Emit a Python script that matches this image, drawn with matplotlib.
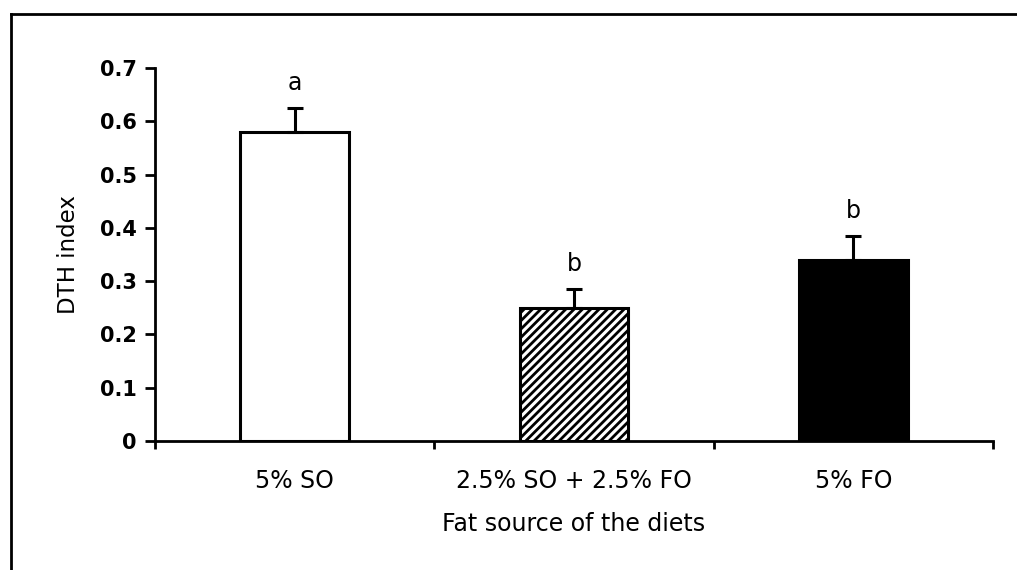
import matplotlib.pyplot as plt
from matplotlib.lines import Line2D

plt.rcParams['font.family'] = ['DejaVu Sans']
plt.rcParams['hatch.linewidth'] = 2.0

# Data
diets = ['5% SO', '2.5% SO + 2.5% FO', '5% FO']
dth_index = [0.58, 0.25, 0.34]
sem = [0.045, 0.035, 0.045]
letters = ['a', 'b', 'b']

fig = plt.figure(figsize=(10.17, 5.7), dpi=100)
ax = fig.add_axes([155 / 1017, 1 - 441 / 570, 838 / 1017, 373 / 570])

x = range(len(diets))
faces = ['white', 'white', 'black']
hatches = [None, '////', None]
for i in x:
    ax.bar(i, dth_index[i], width=0.39, color=faces[i], edgecolor='black',
           linewidth=2.2, hatch=hatches[i], zorder=2)
ax.errorbar(list(x), dth_index, yerr=[[0] * len(sem), sem], fmt='none',
            ecolor='black', elinewidth=2.2, capsize=5.5, capthick=2.2, zorder=3)

# significance letters above the error bars
for i in x:
    ax.text(i, dth_index[i] + sem[i] + 0.025, letters[i], ha='center',
            va='bottom', fontsize=17)

ax.set_xlim(-0.5, 2.5)
ax.set_ylim(0, 0.7)
ax.set_yticks([0, 0.1, 0.2, 0.3, 0.4, 0.5, 0.6, 0.7])
ax.set_yticklabels(['0', '0.1', '0.2', '0.3', '0.4', '0.5', '0.6', '0.7'],
                   fontsize=15, fontweight='bold')
ax.set_xticks([-0.5, 0.5, 1.5, 2.5])
ax.set_xticklabels([])
ax.set_xticks(list(x), minor=True)
ax.set_xticklabels(diets, minor=True, fontsize=17)
ax.tick_params(axis='x', which='minor', length=0, pad=20)
ax.tick_params(axis='x', which='major', direction='out', length=6, width=2)
ax.tick_params(axis='y', direction='out', length=7, width=2, pad=6)

for side in ['top', 'right']:
    ax.spines[side].set_visible(False)
for side in ['left', 'bottom']:
    ax.spines[side].set_linewidth(2)

ax.set_ylabel('DTH index', fontsize=16.5)
ax.yaxis.set_label_coords(-0.09, 0.5)
ax.set_xlabel('Fat source of the diets', fontsize=17)
ax.xaxis.set_label_coords(0.5, -0.19)

# Outer frame: only the left and top edges show
fig.add_artist(Line2D([11 / 1017, 11 / 1017], [0, 1 - 14 / 570],
                      transform=fig.transFigure, color='black', lw=2))
fig.add_artist(Line2D([11 / 1017, 1], [1 - 14 / 570, 1 - 14 / 570],
                      transform=fig.transFigure, color='black', lw=2))

fig.savefig('out.png', dpi=100)
